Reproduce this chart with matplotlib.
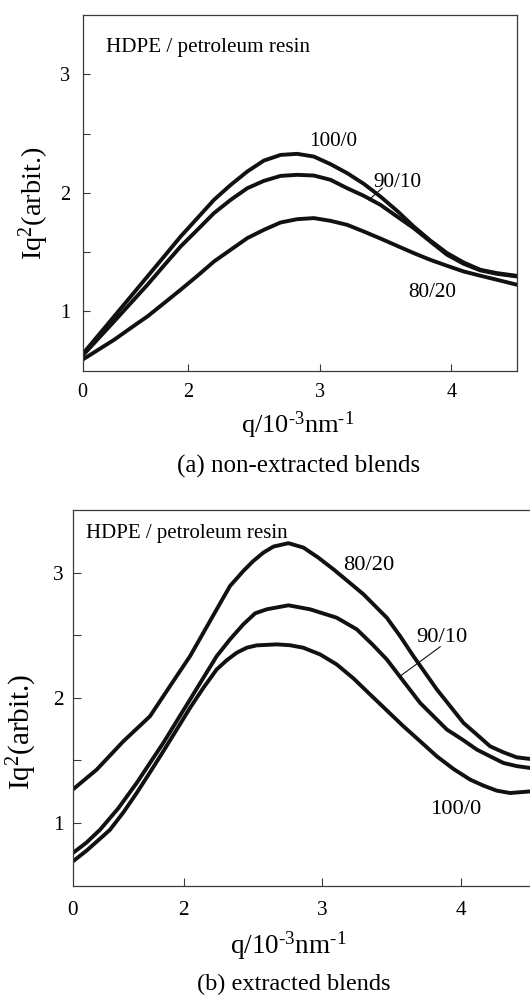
import matplotlib
matplotlib.use("Agg")
import matplotlib.pyplot as plt

plt.rcParams["font.family"] = ["Liberation Serif", "DejaVu Serif"]
plt.rcParams["mathtext.fontset"] = "custom"
plt.rcParams["mathtext.rm"] = "Liberation Serif"
plt.rcParams["mathtext.it"] = "Liberation Serif:italic"
plt.rcParams["mathtext.bf"] = "Liberation Serif:bold"

# ---- (a) non-extracted blends ----
q_a = [1.206, 1.439, 1.565, 1.692, 1.818, 1.944, 2.071, 2.197, 2.324, 2.45, 2.576, 2.703, 2.829,
       2.956, 3.082, 3.209, 3.335, 3.461, 3.588, 3.714, 3.84, 3.967, 4.093, 4.22, 4.346, 4.498]
iq_a_100 = [0.649, 0.958, 1.126, 1.295, 1.463, 1.632, 1.787, 1.941, 2.067, 2.18, 2.272, 2.32, 2.329,
            2.306, 2.242, 2.166, 2.076, 1.969, 1.848, 1.716, 1.598, 1.492, 1.413, 1.351, 1.323, 1.30]
iq_a_90 = [0.635, 0.916, 1.07, 1.225, 1.388, 1.548, 1.688, 1.829, 1.941, 2.039, 2.101, 2.143, 2.152,
           2.146, 2.11, 2.039, 1.975, 1.899, 1.80, 1.702, 1.59, 1.478, 1.402, 1.346, 1.317, 1.295]
iq_a_80 = [0.598, 0.761, 0.86, 0.958, 1.07, 1.183, 1.30, 1.421, 1.52, 1.618, 1.688, 1.75, 1.778,
           1.787, 1.764, 1.73, 1.674, 1.615, 1.553, 1.492, 1.435, 1.385, 1.337, 1.301, 1.267, 1.225]

# ---- (b) extracted blends ----
q_b_80 = [1.2, 1.373, 1.565, 1.757, 1.925, 2.046, 2.142, 2.238, 2.334, 2.43, 2.502, 2.575, 2.647,
          2.755, 2.863, 2.97, 3.079, 3.19, 3.296, 3.464, 3.56, 3.656, 3.825, 4.017, 4.113, 4.209,
          4.305, 4.401, 4.498]
iq_b_80 = [1.267, 1.427, 1.653, 1.853, 2.133, 2.333, 2.52, 2.707, 2.893, 3.013, 3.093, 3.16, 3.208,
           3.235, 3.2, 3.12, 3.027, 2.925, 2.827, 2.64, 2.493, 2.333, 2.067, 1.8, 1.707, 1.613,
           1.565, 1.525, 1.512]

q_b_90 = [1.2, 1.30, 1.397, 1.53, 1.661, 1.757, 1.853, 2.046, 2.142, 2.238, 2.334, 2.43, 2.515,
          2.599, 2.755, 2.911, 3.103, 3.248, 3.36, 3.464, 3.584, 3.704, 3.897, 4.009, 4.113, 4.209,
          4.305, 4.401, 4.498]
iq_b_90 = [0.76, 0.845, 0.947, 1.12, 1.32, 1.48, 1.64, 1.987, 2.16, 2.333, 2.467, 2.587, 2.675,
           2.707, 2.739, 2.707, 2.64, 2.547, 2.427, 2.307, 2.133, 1.96, 1.747, 1.667, 1.587, 1.533,
           1.48, 1.455, 1.44]

q_b_100 = [1.2, 1.30, 1.415, 1.469, 1.565, 1.661, 1.757, 1.853, 2.046, 2.142, 2.238, 2.31, 2.382,
           2.454, 2.526, 2.671, 2.767, 2.863, 2.983, 3.103, 3.224, 3.344, 3.464, 3.584, 3.705,
           3.825, 3.945, 4.065, 4.161, 4.257, 4.353, 4.498]
iq_b_100 = [0.693, 0.78, 0.893, 0.947, 1.085, 1.24, 1.405, 1.573, 1.92, 2.08, 2.227, 2.30, 2.36,
            2.40, 2.419, 2.427, 2.42, 2.40, 2.347, 2.267, 2.155, 2.027, 1.90, 1.773, 1.653,
            1.533, 1.432, 1.347, 1.299, 1.259, 1.24, 1.253]

XTICKS = [1.2, 2, 3, 4]
XTICKLABELS = ["0", "2", "3", "4"]
YTICKS = [1, 1.5, 2, 2.5, 3]
YTICKLABELS = ["1", "", "2", "", "3"]

W, H = 530, 996
LW = 2.8
INK = "#111111"
SPINE = "#3a3a3a"


def fx(px):
    return px / W


def fy(py):
    return 1 - py / H


def style_axes(ax, tick_fs, xpad, ypad, ticklen):
    ax.set_xlim(1.2, 4.5)
    ax.set_ylim(0.5, 3.5)
    ax.set_xticks(XTICKS)
    ax.set_xticklabels(XTICKLABELS)
    ax.set_yticks(YTICKS)
    ax.set_yticklabels(YTICKLABELS)
    ax.tick_params(direction="in", length=ticklen, width=0.8, color=SPINE,
                   labelsize=tick_fs, top=False, right=False)
    ax.tick_params(axis="x", pad=xpad)
    ax.tick_params(axis="y", pad=ypad)
    # no tick mark at the "0" position (it sits on the spine)
    ax.xaxis.get_major_ticks()[0].tick1line.set_visible(False)
    for s in ax.spines.values():
        s.set_color(SPINE)
        s.set_linewidth(0.9)


fig = plt.figure(figsize=(W / 100, H / 100), dpi=100)

# panel (a)
ax_a = fig.add_axes([fx(82.7), fy(370.7), (517.2 - 82.7) / W, (370.7 - 15) / H])
for iq in (iq_a_100, iq_a_90, iq_a_80):
    ax_a.plot(q_a, iq, color=INK, lw=LW, solid_joinstyle="round")
style_axes(ax_a, 14.5, 8.5, 9.0, 5)
ax_a.text(1.377, 3.192, "HDPE / petroleum resin", fontsize=15.2, va="baseline", ha="left")
ax_a.text(3.10, 2.396, "100/0", fontsize=15.3, va="baseline", ha="center")
ax_a.text(3.588, 2.053, "90/10", fontsize=15.3, va="baseline", ha="center")
ax_a.plot([3.474, 3.373], [2.039, 1.941], color=INK, lw=0.8)
ax_a.text(3.858, 1.121, "80/20", fontsize=15.3, va="baseline", ha="center")

fig.text(fx(34), fy(203.5), r"Iq$^2$(arbit.)", rotation=90, fontsize=20.5,
         ha="center", va="center")
fig.text(fx(297.5), fy(433.3), r"q/10$^{\text{-3}}$nm$^{\text{-1}}$", fontsize=19,
         ha="center", va="baseline")
fig.text(fx(298.3), fy(473), "(a) non-extracted blends", fontsize=18,
         ha="center", va="baseline")

# panel (b)
ax_b = fig.add_axes([fx(72.7), fy(885.7), (530.5 - 72.7) / W, (885.7 - 510) / H])
for q, iq in ((q_b_80, iq_b_80), (q_b_90, iq_b_90), (q_b_100, iq_b_100)):
    ax_b.plot(q, iq, color=INK, lw=LW, solid_joinstyle="round")
style_axes(ax_b, 15.3, 11.0, 6.3, 6)
ax_b.spines["right"].set_visible(False)
ax_b.text(1.296, 3.276, "HDPE / petroleum resin", fontsize=15.0, va="baseline", ha="left")
ax_b.text(3.337, 3.021, "80/20", fontsize=16.2, va="baseline", ha="center")
ax_b.text(3.861, 2.448, "90/10", fontsize=16.2, va="baseline", ha="center")
ax_b.plot([3.849, 3.56], [2.408, 2.173], color=INK, lw=0.8)
ax_b.text(3.962, 1.075, "100/0", fontsize=16.2, va="baseline", ha="center")

fig.text(fx(22), fy(731.7), r"Iq$^2$(arbit.)", rotation=90, fontsize=21,
         ha="center", va="center")
fig.text(fx(288.3), fy(953.3), r"q/10$^{\text{-3}}$nm$^{\text{-1}}$", fontsize=19.5,
         ha="center", va="baseline")
fig.text(fx(293.3), fy(990.5), "(b) extracted blends", fontsize=17.5,
         ha="center", va="baseline")

fig.savefig("out.png", dpi=100)
